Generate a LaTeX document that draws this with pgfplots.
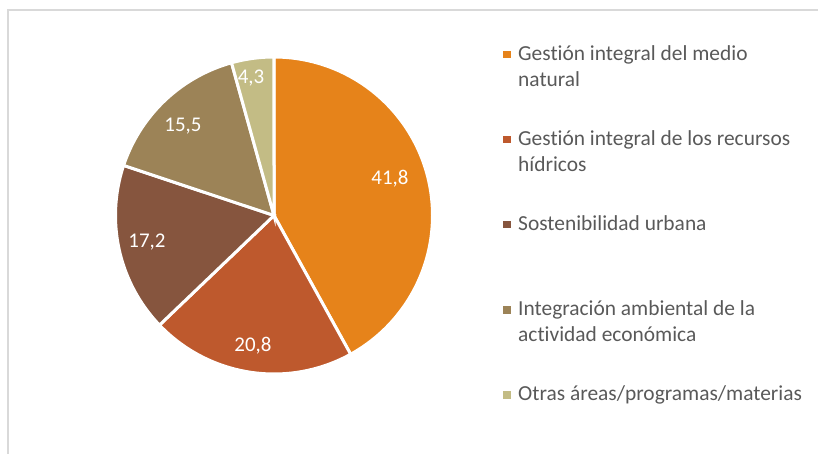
\documentclass[border=0pt]{standalone}
\usepackage{pgfplots}
\pgfplotsset{compat=1.18}
\usepackage{fontspec}
\setmainfont{Carlito}[Ligatures=NoCommon]
\definecolor{cA}{HTML}{E6831A}
\definecolor{cB}{HTML}{BE592D}
\definecolor{cC}{HTML}{86553E}
\definecolor{cD}{HTML}{9C8357}
\definecolor{cE}{HTML}{C3BC85}
\definecolor{txt}{HTML}{595959}
\definecolor{frame}{HTML}{D9D9D9}
% data
\def\vA{41.8}\def\vB{20.8}\def\vC{17.2}\def\vD{15.5}\def\vE{4.3}
\pgfmathsetmacro\tot{\vA+\vB+\vC+\vD+\vE}
\pgfmathsetmacro\aA{90}
\pgfmathsetmacro\aB{\aA-\vA/\tot*360}
\pgfmathsetmacro\aC{\aB-\vB/\tot*360}
\pgfmathsetmacro\aD{\aC-\vC/\tot*360}
\pgfmathsetmacro\aE{\aD-\vD/\tot*360}
\pgfmathsetmacro\aF{\aE-\vE/\tot*360}
\def\cx{274}\def\cy{-215.5}\def\R{158.5}
\newcommand{\sector}[3]{%
  \addplot[fill=#1, draw=white, line width=3bp, domain=#3:#2, samples=120, variable=\t]
    ({\cx+\R*cos(\t)},{\cy+\R*sin(\t)}) -- (axis cs:\cx,\cy) -- cycle;}
\begin{document}
\begin{tikzpicture}
\begin{axis}[scale only axis, width=818bp, height=454bp,
  xmin=0, xmax=818, ymin=-454, ymax=0, hide axis, clip=false]
\draw[frame, line width=1.5bp] (axis cs:8,-460) -- (axis cs:8,-10) -- (axis cs:830,-10);
\sector{cA}{\aA}{\aB}
\sector{cB}{\aB}{\aC}
\sector{cC}{\aC}{\aD}
\sector{cD}{\aD}{\aE}
\sector{cE}{\aE}{\aF}
\begin{scope}[every node/.style={text=white, font=\fontsize{21}{24}\selectfont, inner sep=0pt}]
\node at (axis cs:390,-179) {41,8};
\node at (axis cs:253,-346) {20,8};
\node at (axis cs:147,-242) {17,2};
\node at (axis cs:183,-126) {15,5};
\node at (axis cs:251,-78) {4,3};
\end{scope}
\begin{scope}[every node/.style={text=txt, font=\fontsize{21.5}{24}\selectfont, inner sep=0pt, anchor=base west}]
\fill[cA] (axis cs:503.3,-51) rectangle (axis cs:510.7,-58.4);
\node at (axis cs:518,-61) {Gestión integral del medio};
\node at (axis cs:518,-86.5) {natural};
\fill[cB] (axis cs:503.3,-136) rectangle (axis cs:510.7,-143.4);
\node at (axis cs:518,-146) {Gestión integral de los recursos};
\node at (axis cs:518,-171.5) {hídricos};
\fill[cC] (axis cs:503.3,-221) rectangle (axis cs:510.7,-228.4);
\node at (axis cs:518,-231) {Sostenibilidad urbana};
\fill[cD] (axis cs:503.3,-306.5) rectangle (axis cs:510.7,-313.9);
\node at (axis cs:518,-316) {Integración ambiental de la};
\node at (axis cs:518,-341.5) {actividad económica};
\fill[cE] (axis cs:503.3,-391.5) rectangle (axis cs:510.7,-398.9);
\node at (axis cs:518,-401) {Otras áreas/programas/materias};
\end{scope}
\end{axis}
\pgfresetboundingbox
\path[use as bounding box] (0,0) rectangle (818bp,454bp);
\end{tikzpicture}
\end{document}
